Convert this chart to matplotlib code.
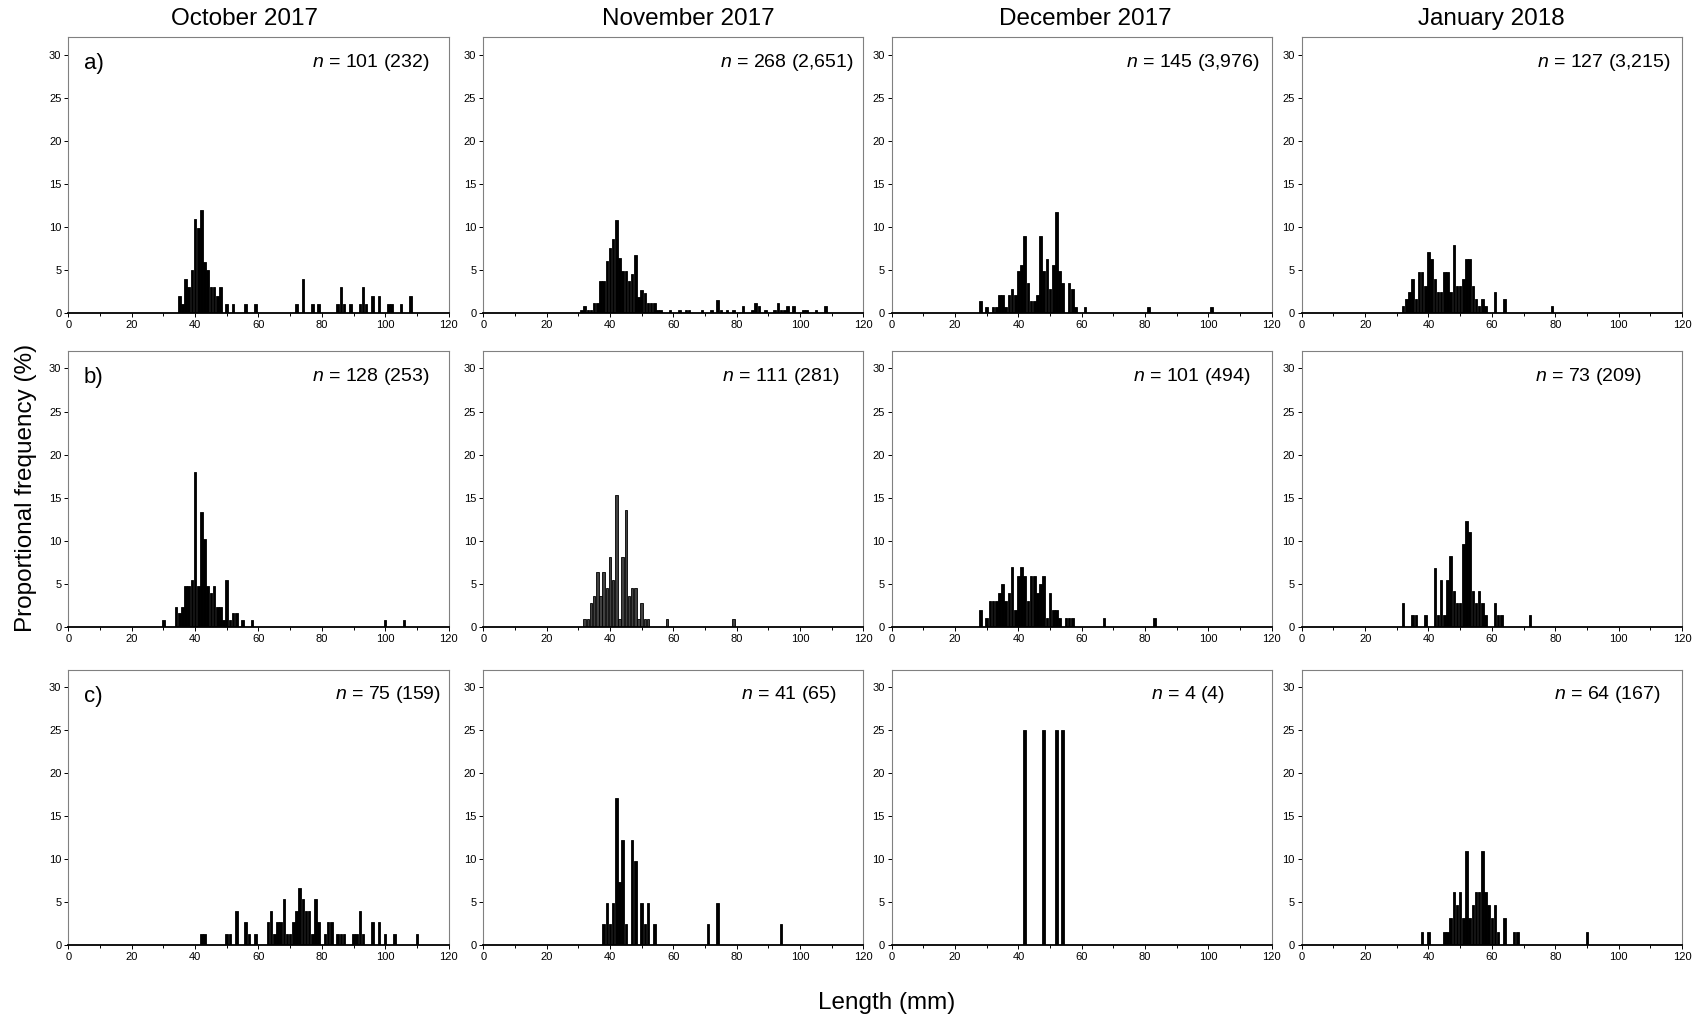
import numpy as np
import matplotlib
matplotlib.use('Agg')
import matplotlib.pyplot as plt
from matplotlib.ticker import MultipleLocator

plt.rcParams['font.family'] = ['Liberation Sans', 'DejaVu Sans']
plt.rcParams['mathtext.fontset'] = 'custom'
plt.rcParams['mathtext.rm'] = 'Liberation Sans'
plt.rcParams['mathtext.it'] = 'Liberation Sans:italic'

months = ['October 2017', 'November 2017', 'December 2017', 'January 2018']
row_tags = ['a)', 'b)', 'c)']

# fish measured per panel, and (total caught)
n_measured = [[101, 268, 145, 127],
              [128, 111, 101, 73],
              [75, 41, 4, 64]]
n_caught = [['232', '2,651', '3,976', '3,215'],
            ['253', '281', '494', '209'],
            ['159', '65', '4', '167']]

# number of fish in each 1-mm length class
a_oct_len = [35, 36, 37, 38, 39, 40, 41, 42, 43, 44, 45, 46, 47, 48, 50, 52, 56, 59, 72, 74, 77, 79,
             85, 86, 87, 89, 92, 93, 94, 96, 98, 101, 102, 105, 108]
a_oct_cnt = [2, 1, 4, 3, 5, 11, 10, 12, 6, 5, 3, 3, 2, 3, 1, 1, 1, 1, 1, 4, 1, 1,
             1, 3, 1, 1, 1, 3, 1, 2, 2, 1, 1, 1, 2]
a_nov_len = [31, 32, 33, 34, 35, 36, 37, 38, 39, 40, 41, 42, 43, 44, 45, 46, 47, 48, 49, 50, 51, 52, 53,
             54, 55, 56, 59, 62, 64, 65, 69, 72, 74, 75, 77, 79, 82, 85, 86, 87, 89, 92, 93, 94, 95, 96,
             98, 101, 102, 105, 108]
a_nov_cnt = [1, 2, 1, 1, 3, 3, 10, 10, 16, 20, 23, 29, 17, 13, 13, 10, 12, 18, 5, 7, 6, 3, 3,
             3, 1, 1, 1, 1, 1, 1, 1, 1, 4, 1, 1, 1, 2, 1, 3, 2, 1, 1, 3, 1, 1, 2,
             2, 1, 1, 1, 2]
a_dec_len = [28, 30, 32, 33, 34, 35, 36, 37, 38, 39, 40, 41, 42, 43, 44, 45, 46, 47, 48, 49, 50, 51,
             52, 53, 54, 56, 57, 58, 61, 81, 101]
a_dec_cnt = [2, 1, 1, 1, 3, 3, 1, 3, 4, 3, 7, 8, 13, 5, 2, 2, 3, 13, 7, 9, 4, 8,
             17, 7, 5, 5, 4, 1, 1, 1, 1]
a_jan_len = [32, 33, 34, 35, 36, 37, 38, 39, 40, 41, 42, 43, 44, 45, 46, 47, 48, 49, 50, 51, 52, 53,
             54, 55, 56, 57, 58, 61, 64, 79]
a_jan_cnt = [1, 2, 3, 5, 2, 6, 6, 4, 9, 8, 5, 3, 3, 6, 6, 3, 10, 4, 4, 5, 8, 8,
             4, 2, 1, 2, 1, 3, 2, 1]

b_oct_len = [30, 34, 35, 36, 37, 38, 39, 40, 41, 42, 43, 44, 45, 46, 47, 48, 49, 50, 51, 52, 53, 55,
             58, 100, 106]
b_oct_cnt = [1, 3, 2, 3, 6, 6, 7, 23, 6, 17, 13, 6, 5, 6, 3, 3, 1, 7, 1, 2, 2, 1,
             1, 1, 1]
b_nov_len = [32, 33, 34, 35, 36, 37, 38, 39, 40, 41, 42, 43, 44, 45, 46, 47, 48, 49, 50, 51, 52, 58, 79]
b_nov_cnt = [1, 1, 3, 4, 7, 4, 7, 5, 9, 6, 17, 1, 9, 15, 4, 5, 5, 1, 3, 1, 1, 1, 1]
b_dec_len = [28, 30, 31, 32, 33, 34, 35, 36, 37, 38, 39, 40, 41, 42, 43, 44, 45, 46, 47, 48, 49, 50,
             51, 52, 53, 55, 56, 57, 67, 83]
b_dec_cnt = [2, 1, 3, 3, 3, 4, 5, 3, 4, 7, 2, 6, 7, 6, 3, 6, 6, 4, 5, 6, 1, 4,
             2, 2, 1, 1, 1, 1, 1, 1]
b_jan_len = [32, 35, 36, 39, 42, 43, 44, 45, 46, 47, 48, 49, 50, 51, 52, 53, 54, 55, 56, 57, 58, 61,
             62, 63, 72]
b_jan_cnt = [2, 1, 1, 1, 5, 1, 4, 1, 4, 6, 3, 2, 2, 7, 9, 8, 3, 2, 3, 2, 1, 2,
             1, 1, 1]

c_oct_len = [42, 43, 50, 51, 53, 56, 57, 59, 63, 64, 65, 66, 67, 68, 69, 70, 71, 72, 73, 74, 75, 76,
             77, 78, 79, 81, 82, 83, 85, 86, 87, 90, 91, 92, 93, 96, 98, 100, 103, 110]
c_oct_cnt = [1, 1, 1, 1, 3, 2, 1, 1, 2, 3, 1, 2, 2, 4, 1, 1, 2, 3, 5, 4, 3, 3,
             1, 4, 2, 1, 2, 2, 1, 1, 1, 1, 1, 3, 1, 2, 2, 1, 1, 1]
c_nov_len = [38, 39, 40, 41, 42, 43, 44, 45, 47, 48, 50, 51, 52, 54, 71, 74, 94]
c_nov_cnt = [1, 2, 1, 2, 7, 3, 5, 1, 5, 4, 2, 1, 2, 1, 1, 2, 1]
c_dec_len = [42, 48, 52, 54]
c_dec_cnt = [1, 1, 1, 1]
c_jan_len = [38, 40, 45, 46, 47, 48, 49, 50, 51, 52, 53, 54, 55, 56, 57, 58, 59, 60, 61, 62, 64, 67,
             68, 90]
c_jan_cnt = [1, 1, 1, 1, 2, 4, 3, 4, 2, 7, 2, 3, 4, 4, 7, 4, 3, 2, 3, 1, 2, 1,
             1, 1]

lengths = [[a_oct_len, a_nov_len, a_dec_len, a_jan_len],
           [b_oct_len, b_nov_len, b_dec_len, b_jan_len],
           [c_oct_len, c_nov_len, c_dec_len, c_jan_len]]
counts = [[a_oct_cnt, a_nov_cnt, a_dec_cnt, a_jan_cnt],
          [b_oct_cnt, b_nov_cnt, b_dec_cnt, b_jan_cnt],
          [c_oct_cnt, c_nov_cnt, c_dec_cnt, c_jan_cnt]]

# layout (figure fractions) and where the n label ends in each panel
lefts = [0.0402, 0.2841, 0.5242, 0.7653]
bottoms = [0.6931, 0.3850, 0.0723]
w, h = 0.2235, 0.2703
title_x = [0.1435, 0.4047, 0.6378, 0.8769]
label_right = [[0.950, 0.974, 0.969, 0.969],
               [0.950, 0.936, 0.943, 0.894],
               [0.981, 0.929, 0.877, 0.943]]

fig = plt.figure(figsize=(17.01, 10.19), dpi=100)

for r in range(3):
    for c in range(4):
        ax = fig.add_axes([lefts[c], bottoms[r], w, h])
        pct = np.array(counts[r][c]) / n_measured[r][c] * 100
        face = '0.25' if (r, c) == (1, 1) else 'black'
        ax.bar(lengths[r][c], pct, width=0.82, color=face, edgecolor='black', linewidth=0.6)

        ax.set_xlim(0, 120)
        ax.set_ylim(0, 32)
        ax.xaxis.set_major_locator(MultipleLocator(20))
        ax.xaxis.set_minor_locator(MultipleLocator(10))
        ax.yaxis.set_major_locator(MultipleLocator(5))
        ax.tick_params(axis='both', which='both', direction='out', labelsize=8, width=0.7, pad=2)
        ax.tick_params(axis='both', which='major', length=3)
        ax.tick_params(axis='x', which='minor', length=2)

        for side in ['top', 'right', 'left']:
            ax.spines[side].set_color('#808080')
            ax.spines[side].set_linewidth(0.8)
        ax.spines['bottom'].set_color('black')
        ax.spines['bottom'].set_linewidth(1.3)

        ax.text(label_right[r][c], 0.91, '$n$ = %d (%s)' % (n_measured[r][c], n_caught[r][c]),
                transform=ax.transAxes, ha='right', va='center', fontsize=14)
        if c == 0:
            ax.text(0.04, 0.905, row_tags[r], transform=ax.transAxes,
                    ha='left', va='center', fontsize=16)

for c in range(4):
    fig.text(title_x[c], 0.981, months[c], ha='center', va='center', fontsize=17.5)

fig.text(0.5215, 0.016, 'Length (mm)', ha='center', va='center', fontsize=17.5)
fig.text(0.0153, 0.521, 'Proportional frequency (%)', ha='center', va='center',
         rotation=90, fontsize=17.5)

fig.savefig('out.png', dpi=100)
